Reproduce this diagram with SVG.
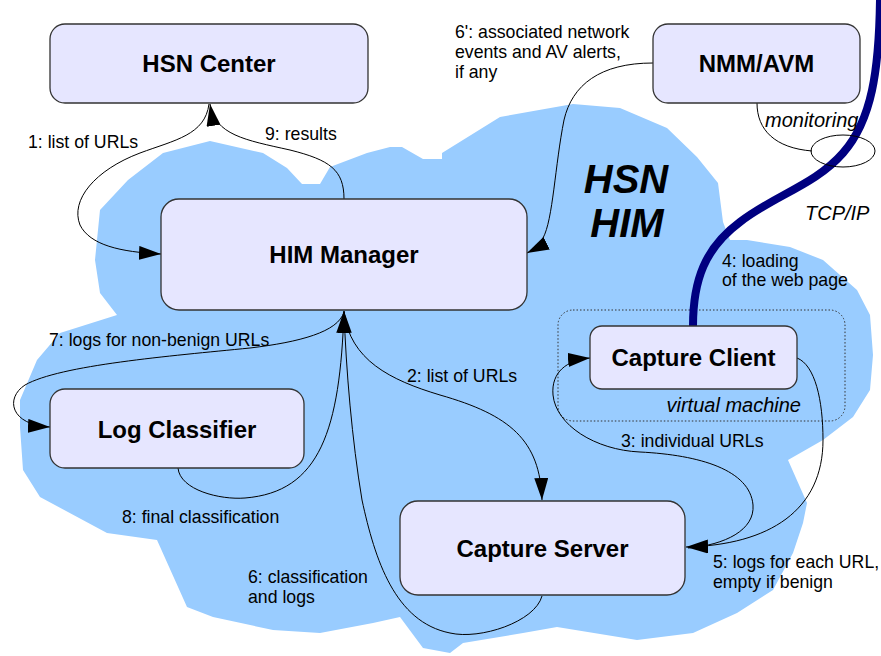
<svg xmlns="http://www.w3.org/2000/svg" width="881" height="656" viewBox="0 0 881 656">
<style>
.node rect{fill:#e6e6ff;stroke:#333;stroke-width:1.3}
.title{font-family:"Liberation Sans",Arial,sans-serif;font-weight:bold;font-size:24px;fill:#000;text-anchor:middle}
.lbl{font-family:"Liberation Sans",Arial,sans-serif;font-size:17.7px;fill:#000}
.it{font-family:"Liberation Sans",Arial,sans-serif;font-style:italic;font-size:20px;fill:#000}
.conn path{fill:none;stroke:#000;stroke-width:1}
</style>
<defs>
<marker id="arr" markerUnits="userSpaceOnUse" viewBox="0 0 22 14" refX="22" refY="7" markerWidth="22" markerHeight="14" orient="auto">
<path d="M0,0 L22,7 L0,14 Z" fill="#000"/>
</marker>
</defs>
<rect width="881" height="656" fill="#fff"/>
<path id="cloud" fill="#99ccff" d="M100,210 L128,180 L163,153 L210,141 L263,153 L287,168 L302,184 L320,184 L330,167 L367,153 L390,147 L402,147 L423,159 L442,159 L442,153 L500,117 L573,104 L620,108 L667,128 L697,157 L718,183 L723,222 L730,240 L747,240 L790,247 L823,260 L857,290 L870,315 L873,355 L870,390 L853,417 L823,440 L788,460 L807,503 L803,523 L793,553 L773,590 L737,613 L693,633 L637,640 L557,627 L523,633 L463,643 L450,653 L423,648 L400,617 L373,623 L320,633 L273,630 L213,617 L187,607 L157,540 L107,533 L40,497 L23,470 L20,427 L20,400 L37,360 L60,333 L117,315 L100,293 L95,260 Z"/>
<text class="it" x="626" y="193" text-anchor="middle" style="font-weight:bold;font-size:40px">HSN</text>
<text class="it" x="627" y="237" text-anchor="middle" style="font-weight:bold;font-size:40px">HIM</text>
<rect id="vm" x="558" y="310" width="287" height="111" rx="15" fill="none" stroke="#333" stroke-width="1" stroke-dasharray="1.5,2"/>
<text class="it" x="801" y="412" text-anchor="end">virtual machine</text>
<path id="tcpip" d="M880,0 C879,70 872,120 843,153 C815,185 775,195 740,222 C705,248 693,280 693,326" fill="none" stroke="#000080" stroke-width="8"/>
<g class="conn" id="connectors">
<path d="M209,104 C205,135 175,140 140,153 C95,170 70,200 80,225 C90,245 120,252 161,254" marker-end="url(#arr)"/>
<path d="M344,199 C344,170 330,160 290,150 C245,140 215,135 210,104" marker-end="url(#arr)"/>
<path d="M344,312 C350,360 390,380 440,395 C510,415 540,440 542,500" marker-end="url(#arr)"/>
<path d="M344,312 C338,332 300,342 250,348 C170,356 60,365 25,385 C5,398 10,425 50,427" marker-end="url(#arr)"/>
<path d="M178,468 C180,490 220,500 245,498 C320,492 340,430 344,311" marker-end="url(#arr)"/>
<path d="M542,596 C535,622 480,640 450,633 C395,622 375,560 362,500 C352,440 346,370 344,311" marker-end="url(#arr)"/>
<path d="M688,548 C725,545 755,530 753,505 C750,470 700,455 640,452 C595,450 556,425 553,395 C551,372 567,360 590,358" marker-end="url(#arr)"/>
<path d="M797,358 C815,365 823,400 823,440 C823,510 770,545 686,547" marker-end="url(#arr)"/>
<path d="M653,63 C600,63 572,85 564,120 C555,165 553,220 543,238 C538,246 533,250 527,253" marker-end="url(#arr)"/>
<path d="M757,103 C757,130 775,148 812,151"/>
<ellipse cx="843" cy="151" rx="32" ry="16" fill="none" stroke="#000" stroke-width="1"/>
</g>
<g class="node" id="hsn-center"><rect x="50" y="24" width="318" height="79" rx="15"/><text class="title" x="209" y="72">HSN Center</text></g>
<g class="node" id="nmm-avm"><rect x="653" y="24" width="207" height="79" rx="15"/><text class="title" x="756.5" y="72">NMM/AVM</text></g>
<g class="node" id="him-manager"><rect x="161" y="199" width="366" height="111" rx="18"/><text class="title" x="344" y="263">HIM Manager</text></g>
<g class="node" id="log-classifier"><rect x="50" y="389" width="254" height="79" rx="15"/><text class="title" x="177" y="438">Log Classifier</text></g>
<g class="node" id="capture-client"><rect x="590" y="326" width="207" height="63" rx="12"/><text class="title" x="693.5" y="366">Capture Client</text></g>
<g class="node" id="capture-server"><rect x="400" y="501" width="285" height="94" rx="18"/><text class="title" x="542.5" y="557">Capture Server</text></g>
<g id="labels">
<text class="lbl" x="28" y="148">1: list of URLs</text>
<text class="lbl" x="265" y="139.5">9: results</text>
<text class="lbl" x="455" y="37.5">6': associated network</text>
<text class="lbl" x="455" y="57.5">events and AV alerts,</text>
<text class="lbl" x="455" y="77.5">if any</text>
<text class="it" x="765" y="127">monitoring</text>
<text class="it" x="805" y="220">TCP/IP</text>
<text class="lbl" x="722" y="266.5">4: loading</text>
<text class="lbl" x="722" y="285.5">of the web page</text>
<text class="lbl" x="49" y="346">7: logs for non-benign URLs</text>
<text class="lbl" x="407" y="382">2: list of URLs</text>
<text class="lbl" x="621" y="447">3: individual URLs</text>
<text class="lbl" x="122" y="523">8: final classification</text>
<text class="lbl" x="248" y="583">6: classification</text>
<text class="lbl" x="248" y="603">and logs</text>
<text class="lbl" x="713" y="567.5">5: logs for each URL,</text>
<text class="lbl" x="713" y="587.5">empty if benign</text>
</g>
</svg>
